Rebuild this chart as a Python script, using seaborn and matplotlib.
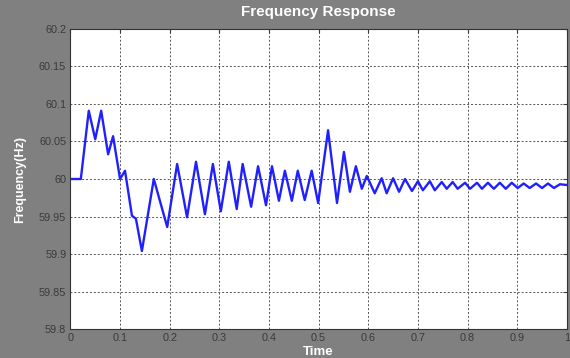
import matplotlib
matplotlib.use("Agg")
import matplotlib.pyplot as plt
import seaborn as sns
import pandas as pd

# --- data (local peaks / troughs of the response) ---
time = [0.000, 0.021, 0.037, 0.050, 0.062, 0.076, 0.086, 0.100, 0.110, 0.124,
        0.132, 0.144, 0.168, 0.195, 0.215, 0.235, 0.253, 0.271, 0.287, 0.303,
        0.319, 0.335, 0.347, 0.364, 0.378, 0.394, 0.406, 0.420, 0.432, 0.446,
        0.458, 0.472, 0.486, 0.499, 0.519, 0.537, 0.551, 0.563, 0.575, 0.587,
        0.597, 0.613, 0.627, 0.637, 0.650, 0.662, 0.674, 0.688, 0.700, 0.710,
        0.724, 0.734, 0.748, 0.758, 0.770, 0.780, 0.795, 0.805, 0.819, 0.829,
        0.841, 0.853, 0.865, 0.877, 0.889, 0.901, 0.913, 0.925, 0.938, 0.950,
        0.962, 0.974, 0.986, 1.000]
freq = [60.000, 60.000, 60.091, 60.053, 60.091, 60.033, 60.057, 60.000, 60.011, 59.951,
        59.947, 59.904, 60.000, 59.936, 60.020, 59.949, 60.023, 59.953, 60.020, 59.957,
        60.023, 59.960, 60.020, 59.963, 60.017, 59.965, 60.017, 59.971, 60.011, 59.971,
        60.011, 59.972, 60.011, 59.968, 60.065, 59.968, 60.036, 59.983, 60.017, 59.987,
        60.004, 59.981, 60.001, 59.981, 60.001, 59.983, 60.000, 59.984, 59.997, 59.985,
        59.997, 59.985, 59.996, 59.987, 59.996, 59.987, 59.995, 59.987, 59.995, 59.987,
        59.995, 59.987, 59.995, 59.987, 59.995, 59.988, 59.994, 59.988, 59.994, 59.988,
        59.994, 59.988, 59.993, 59.992]

x_ticks = [0, 0.1, 0.2, 0.3, 0.4, 0.5, 0.6, 0.7, 0.8, 0.9, 1]
x_labels = ["0", "0.1", "0.2", "0.3", "0.4", "0.5", "0.6", "0.7", "0.8", "0.9", "1"]
y_ticks = [59.8, 59.85, 59.9, 59.95, 60, 60.05, 60.1, 60.15, 60.2]
y_labels = ["59.8", "59.85", "59.9", "59.95", "60", "60.05", "60.1", "60.15", "60.2"]

df = pd.DataFrame({"Time": time, "Frequency": freq})

sns.set_style("white")
plt.rcParams["font.family"] = ["Liberation Sans", "DejaVu Sans"]

fig = plt.figure(figsize=(5.7, 3.58), dpi=100, facecolor="#808080")
ax = fig.add_axes([0.1235, 0.081, 0.871, 0.838])
ax.set_facecolor("white")

sns.lineplot(data=df, x="Time", y="Frequency", ax=ax, color="#2020ff",
             linewidth=1.7, solid_joinstyle="round")

ax.set_xlim(0, 1)
ax.set_ylim(59.8, 60.2)
ax.set_xticks(x_ticks)
ax.set_xticklabels(x_labels)
ax.set_yticks(y_ticks)
ax.set_yticklabels(y_labels)
ax.tick_params(direction="in", length=3, labelsize=7.8, colors="#3a3a3a",
               top=True, right=True, pad=3)
ax.grid(True, linestyle=(0, (2, 2)), color="#555555", linewidth=0.7)

for s in ax.spines.values():
    s.set_color("#333333")
    s.set_linewidth(0.8)

ax.set_title("Frequency Response", color="white", fontsize=11,
             fontweight="bold", pad=9)
ax.set_xlabel("Time", color="white", fontsize=9.5, fontweight="bold", labelpad=2)
ax.set_ylabel("Frequency(Hz)", color="white", fontsize=9, fontweight="bold", labelpad=9)

fig.savefig("out.png", dpi=100, facecolor=fig.get_facecolor())
